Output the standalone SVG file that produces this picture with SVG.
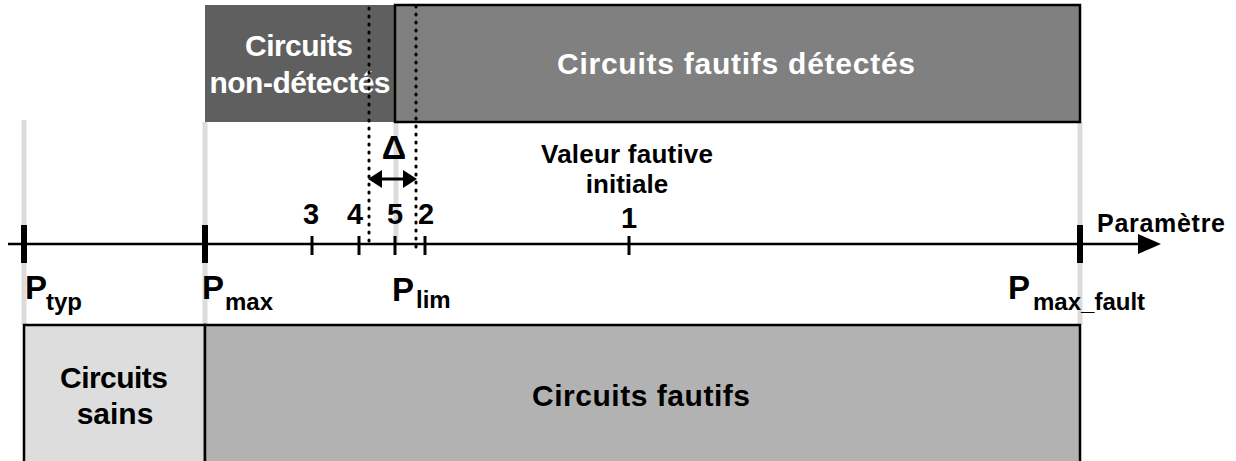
<svg xmlns="http://www.w3.org/2000/svg" width="1236" height="461" viewBox="0 0 1236 461">
<style>
text{font-family:"Liberation Sans",Arial,sans-serif;font-weight:bold;}
.w{fill:#fff;font-size:30px;text-anchor:middle;}
.b{fill:#000;font-size:30px;text-anchor:middle;}
.d{font-size:29px;text-anchor:middle;fill:#000;}
.P{font-size:33px;fill:#000;}
.s{font-size:24px;fill:#000;}
.gl{stroke:#dcdcdc;stroke-width:5;}
.dot{stroke:#000;stroke-width:3;stroke-dasharray:1 7;stroke-linecap:round;fill:none;}
.maj{stroke:#000;stroke-width:6;}
.min{stroke:#000;stroke-width:3;}
</style>
<rect width="1236" height="461" fill="#fff"/>
<g id="guides">
<line class="gl" x1="24" y1="120" x2="24" y2="325"/>
<line class="gl" x1="205" y1="122" x2="205" y2="325"/>
<line class="gl" x1="396" y1="122" x2="396" y2="245"/>
<line class="gl" x1="1080" y1="122" x2="1080" y2="325"/>
</g>
<g id="non-detectes">
<rect x="205" y="5" width="190" height="117" fill="#5f5f5f"/>
<text class="w" x="299" y="56" textLength="108">Circuits</text>
<text class="w" x="300" y="93" textLength="181">non-détectés</text>
</g>
<g id="detectes">
<rect x="395" y="5" width="685" height="117" fill="#808080" stroke="#000" stroke-width="2.5"/>
<text class="w" x="736" y="74" textLength="358">Circuits fautifs détectés</text>
</g>
<g id="sains">
<rect x="24" y="325" width="181" height="150" fill="#dddddd" stroke="#000" stroke-width="2.5"/>
<text class="b" x="114" y="388" textLength="108">Circuits</text>
<text class="b" x="115" y="424">sains</text>
</g>
<g id="fautifs">
<rect x="205" y="325" width="875" height="150" fill="#b2b2b2" stroke="#000" stroke-width="2.5"/>
<text class="b" x="641" y="406" textLength="218">Circuits fautifs</text>
</g>
<g id="connectors">
<line class="dot" x1="369" y1="8" x2="369" y2="245"/>
<line class="dot" x1="416" y1="6" x2="416" y2="250"/>
<line x1="8" y1="244" x2="1140" y2="244" stroke="#000" stroke-width="2.5"/>
<polygon points="1138,234 1161,244 1138,254" fill="#000"/>
<line class="maj" x1="24" y1="225" x2="24" y2="263"/>
<line class="maj" x1="205" y1="225" x2="205" y2="263"/>
<line class="maj" x1="1080" y1="225" x2="1080" y2="263"/>
<line class="min" x1="312" y1="236" x2="312" y2="255"/>
<line class="min" x1="359" y1="236" x2="359" y2="255"/>
<line class="min" x1="395" y1="236" x2="395" y2="255"/>
<line class="min" x1="425" y1="236" x2="425" y2="255"/>
<line class="min" x1="629" y1="236" x2="629" y2="255"/>
<line x1="378" y1="179" x2="407" y2="179" stroke="#000" stroke-width="3"/>
<polygon points="368,179 382,170 382,188" fill="#000"/>
<polygon points="417,179 403,170 403,188" fill="#000"/>
</g>
<g id="labels">
<text x="394" y="159" font-size="34" text-anchor="middle">Δ</text>
<text class="d" x="311" y="224">3</text>
<text class="d" x="355" y="224">4</text>
<text class="d" x="395" y="224">5</text>
<text class="d" x="426" y="224">2</text>
<text class="d" x="629" y="228">1</text>
<text x="627" y="163" font-size="26" text-anchor="middle" textLength="172">Valeur fautive</text>
<text x="627" y="193" font-size="26" text-anchor="middle">initiale</text>
<text x="1097" y="232" font-size="25" textLength="128">Paramètre</text>
<text class="P" x="25" y="299">P</text><text class="s" x="46" y="310">typ</text>
<text class="P" x="202" y="299">P</text><text class="s" x="225" y="310">max</text>
<text class="P" x="392" y="301">P</text><text class="s" x="416" y="308">lim</text>
<text class="P" x="1008" y="299">P</text><text class="s" x="1033" y="310">max_fault</text>
</g>
</svg>
